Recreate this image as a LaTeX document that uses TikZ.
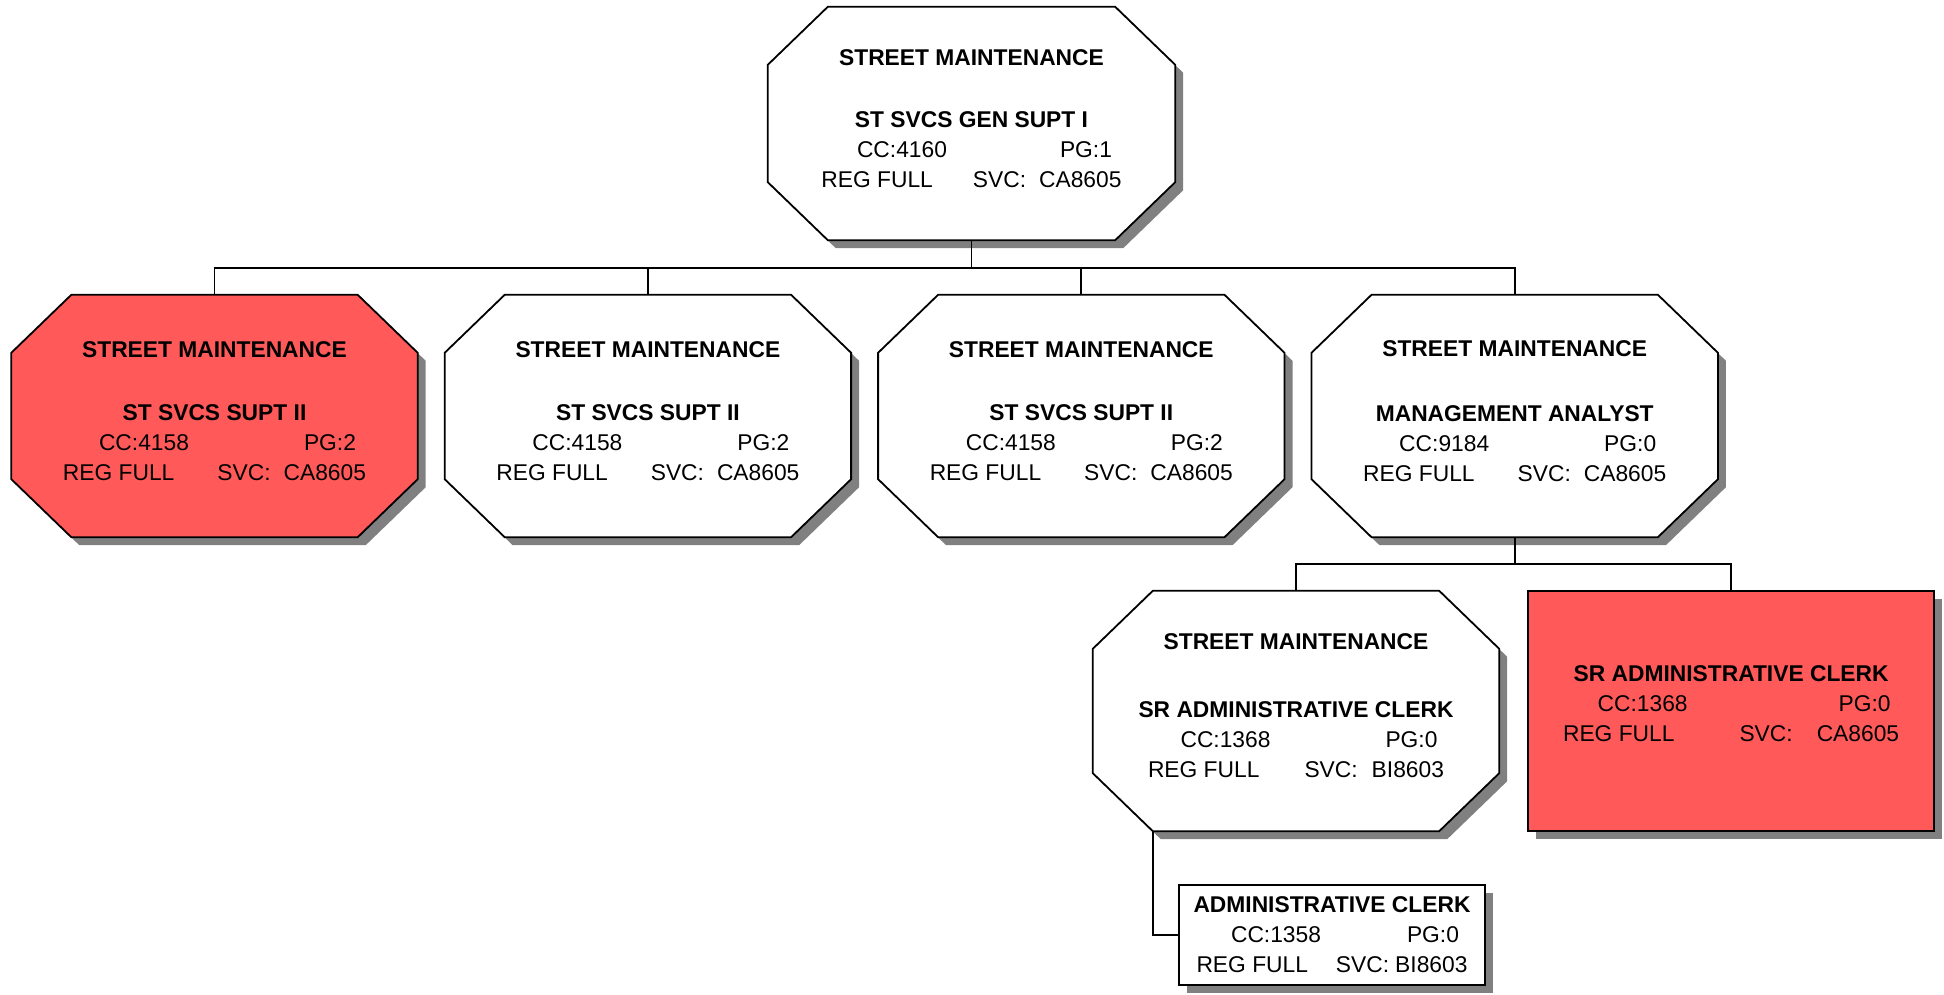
\documentclass[tikz,border=0pt]{standalone}
\usepackage{fontspec}
\setmainfont{Liberation Sans}
\usepackage{tikz}
\usetikzlibrary{shadows, positioning, calc, backgrounds}
\definecolor{vacant}{RGB}{255,89,89}
\definecolor{shade}{RGB}{128,128,128}
\tikzstyle{octbox} = [rectangle, minimum width=406pt, minimum height=242pt, align=center, inner sep=0pt, text depth=10pt, font=\fontsize{22.8pt}{30pt}\selectfont]
\tikzstyle{outline} = [draw=black, line width=1.8pt, drop shadow={shadow xshift=8pt, shadow yshift=-8pt, fill=shade, opacity=1}]
\tikzstyle{sqbox} = [octbox, outline, fill=white]
\tikzstyle{link} = [line width=1.8pt]
% CC / PG line and REG / SVC line of a position box
\newcommand{\jobinfo}[6]{\hspace*{26pt}CC:#1\hspace{#4}PG:#2\\REG FULL\hspace{#5}SVC:\hspace{#6}#3}
% outline of a box with cut corners
\newcommand{\cutcorners}[1]{($(#1.north west)+(60,0)$) -- ($(#1.north east)+(-60,0)$) -- ($(#1.north east)+(0,-58)$) -- ($(#1.south east)+(0,58)$) -- ($(#1.south east)+(-60,0)$) -- ($(#1.south west)+(60,0)$) -- ($(#1.south west)+(0,58)$) -- ($(#1.north west)+(0,-58)$) -- cycle}

\begin{document}
\begin{tikzpicture}[x=1pt, y=1pt]
  \useasboundingbox (0,0) rectangle (1944,-995);
  \node[octbox, minimum height=233pt, minimum width=407pt] (top) at (971.5,-123.5) {\textbf{STREET MAINTENANCE}\\[32pt]\textbf{ST SVCS GEN SUPT I}\\\jobinfo{4160}{1}{CA8605}{113pt}{40pt}{13pt}};

  \node[octbox] (svA) at (214.5,-416) {\textbf{STREET MAINTENANCE}\\[33pt]\textbf{ST SVCS SUPT II}\\\jobinfo{4158}{2}{CA8605}{115pt}{43pt}{13pt}};
  \node[octbox, right=27pt of svA] (svB) {\textbf{STREET MAINTENANCE}\\[33pt]\textbf{ST SVCS SUPT II}\\\jobinfo{4158}{2}{CA8605}{115pt}{43pt}{13pt}};
  \node[octbox, right=27pt of svB] (svC) {\textbf{STREET MAINTENANCE}\\[33pt]\textbf{ST SVCS SUPT II}\\\jobinfo{4158}{2}{CA8605}{115pt}{43pt}{13pt}};
  \node[octbox, right=27pt of svC] (ma) {\textbf{STREET MAINTENANCE}\\[35pt]\textbf{MANAGEMENT ANALYST}\\\jobinfo{9184}{0}{CA8605}{115pt}{43pt}{13pt}};

  \node[octbox, minimum height=240pt] (sr) at (1296,-711) {\textbf{STREET MAINTENANCE}\\[38pt]\textbf{SR ADMINISTRATIVE CLERK}\\\jobinfo{1368}{0}{BI8603}{115pt}{45pt}{14pt}};
  \node[sqbox, fill=vacant, minimum height=240pt, text depth=14pt, right=28pt of sr] (vac) {\textbf{SR ADMINISTRATIVE CLERK}\\\jobinfo{1368}{0}{CA8605}{151pt}{65pt}{24pt}};
  \node[sqbox, minimum width=306pt, minimum height=100pt, text depth=0pt] (ac) at (1332,-935) {\fontsize{22.8pt}{29pt}\selectfont\textbf{ADMINISTRATIVE CLERK}\\\jobinfo{1358}{0}{BI8603}{86pt}{28pt}{6pt}};

  \begin{scope}[on background layer]
    \foreach \n/\c in {top/white, svA/vacant, svB/white, svC/white, ma/white, sr/white}
      \path[outline, fill=\c] \cutcorners{\n};
  \end{scope}

  \foreach \n in {svA,svB,svC,ma}
    \draw[link] (top.south) -- ++(0,-28) -| (\n.north);
  \draw[link] (ma.south) -- ++(0,-27) -| (sr.north);
  \draw[link] (ma.south) -- ++(0,-27) -| (vac.north);
  \coordinate (tap) at ($(sr.south)+(-143,0)$);
  \draw[link] (tap) |- (ac.west);
\end{tikzpicture}
\end{document}
